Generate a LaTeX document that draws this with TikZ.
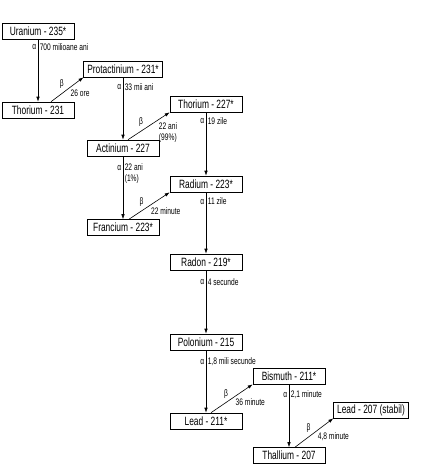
\documentclass[tikz,border=0pt]{standalone}
\usepackage{fontspec}
\setmainfont[FakeStretch=0.7]{Liberation Sans}
\usetikzlibrary{arrows.meta}
\begin{document}
\begin{tikzpicture}[x=1pt, y=-1pt]
%styles des noeuds
\tikzstyle{nucl}=[draw, rectangle, text=black, line width=0.6pt, minimum width=72pt, minimum height=16pt, inner xsep=3.5pt, inner ysep=1pt, font=\fontsize{12}{13}\selectfont]
\tikzstyle{lbl}=[text=black, inner sep=1.5pt, align=left, font=\fontsize{9.5}{11}\selectfont]
\tikzstyle{decay}=[-{Latex[length=5pt,width=3.5pt]}, line width=0.6pt]
\useasboundingbox (0,0) rectangle (432,472);
%figure
\node[nucl] (U235) at (38,31) {Uranium - 235*};
\node[nucl] (Th231) at (38,110) {Thorium - 231};
\node[nucl] (Pa231) at (123,69) {Protactinium - 231*};
\node[nucl] (Ac227) at (123,148) {Actinium - 227};
\node[nucl] (Th227) at (206,104) {Thorium - 227*};
\node[nucl] (Ra223) at (206,184) {Radium - 223*};
\node[nucl] (Fr223) at (123,227.5) {Francium - 223*};
\node[nucl] (Rn219) at (206,262) {Radon - 219*};
\node[nucl] (Po215) at (206,342) {Polonium - 215};
\node[nucl] (Pb211) at (206,421) {Lead - 211*};
\node[nucl] (Bi211) at (289,376) {Bismuth - 211*};
\node[nucl] (Tl207) at (289,455.5) {Thallium - 207};
\node[nucl] (Pb207) at (371,410) {Lead - 207 (stabil)};

% alpha
\draw[decay] (U235.south) -- node[lbl, pos=0.13, left] {α} node[lbl, pos=0.13, right] {700 milioane ani} (Th231.north);
\draw[decay] (Pa231.south) -- node[lbl, pos=0.16, left] {α} node[lbl, pos=0.16, right] {33 mii ani} (Ac227.north);
\draw[decay] (Th227.south) -- node[lbl, pos=0.14, left] {α} node[lbl, pos=0.14, right] {19 zile} (Ra223.north);
\draw[decay] (Ac227.south) -- node[lbl, pos=0.19, left] {α} node[lbl, pos=0.28, right] {22 ani\\(1\%)} (Fr223.north);
\draw[decay] (Ra223.south) -- node[lbl, pos=0.15, left] {α} node[lbl, pos=0.15, right] {11 zile} (Rn219.north);
\draw[decay] (Rn219.south) -- node[lbl, pos=0.19, left] {α} node[lbl, pos=0.19, right] {4 secunde} (Po215.north);
\draw[decay] (Po215.south) -- node[lbl, pos=0.19, left] {α} node[lbl, pos=0.19, right] {1,8 mili secunde} (Pb211.north);
\draw[decay] (Bi211.south) -- node[lbl, pos=0.17, left] {α} node[lbl, pos=0.17, right] {2,1 minute} (Tl207.north);

% beta
\draw[decay] ([xshift=13pt]Th231.north) -- node[lbl, pos=0.45, above left] {β} node[lbl, pos=0.55, below right] {26 ore} (Pa231.south west);
\draw[decay] ([xshift=5pt]Ac227.north) -- node[lbl, pos=0.4, above left] {β} node[lbl, pos=0.7, below right] {22 ani\\(99\%)} (Th227.south west);
\draw[decay] ([xshift=6pt]Fr223.north) -- node[lbl, pos=0.4, above left] {β} node[lbl, pos=0.5, below right] {22 minute} (Ra223.south west);
\draw[decay] ([xshift=5pt]Pb211.north) -- node[lbl, pos=0.45, above left] {β} node[lbl, pos=0.55, below right] {36 minute} (Bi211.south west);
\draw[decay] ([xshift=6pt]Tl207.north) -- node[lbl, pos=0.45, above left] {β} node[lbl, pos=0.55, below right] {4,8 minute} (Pb207.south west);
\end{tikzpicture}
\end{document}
